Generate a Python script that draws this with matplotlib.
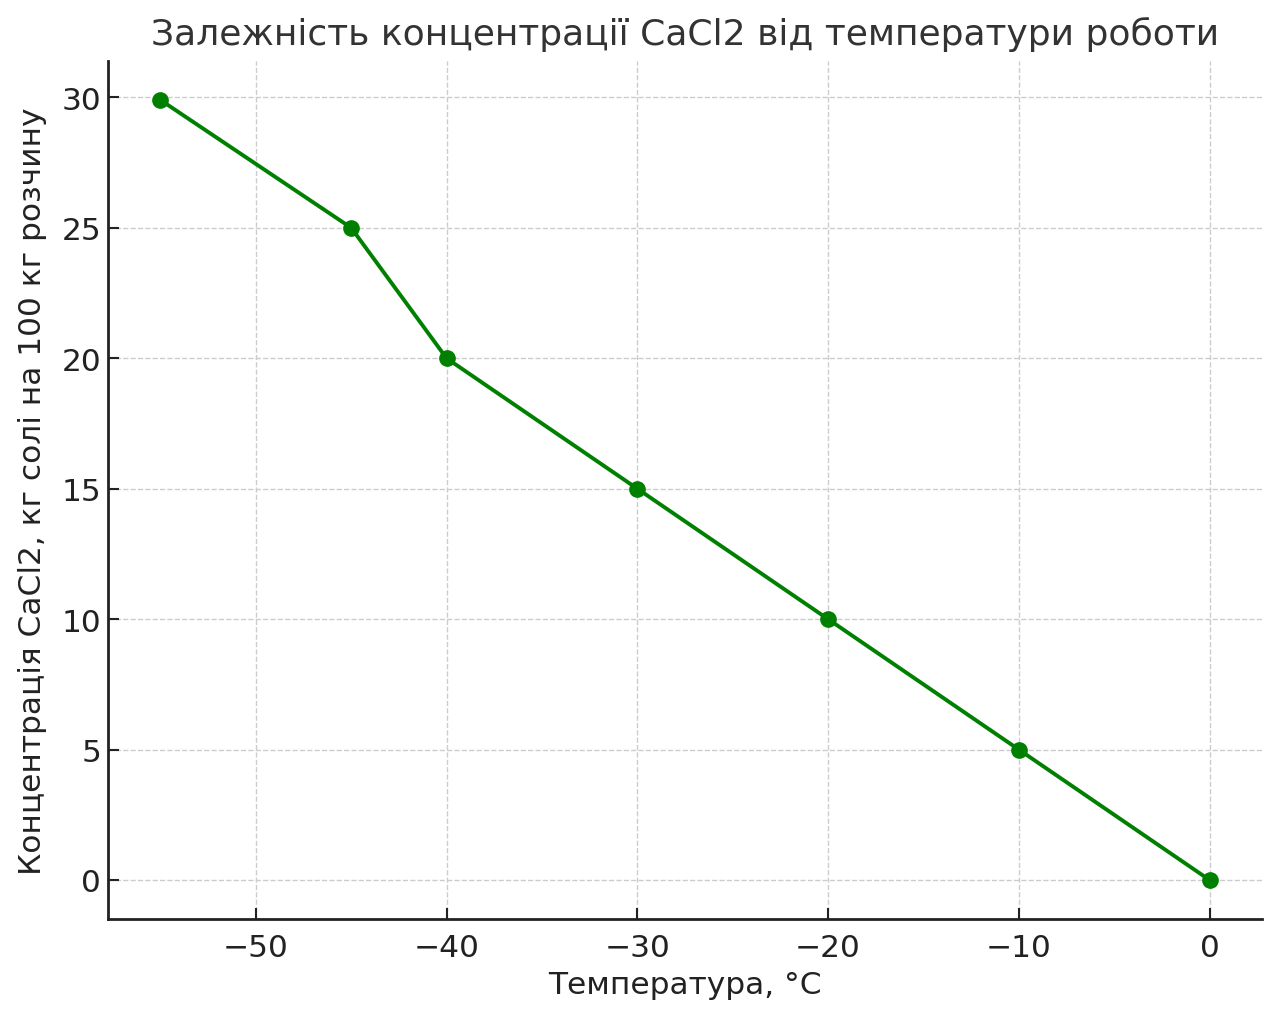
import numpy as np
import matplotlib
matplotlib.use('Agg')
import matplotlib.pyplot as plt

# temperature of operation vs CaCl2 concentration
temperature = [-55, -45, -40, -30, -20, -10, 0]
concentration = [29.9, 25, 20, 15, 10, 5, 0]

title = 'Залежність концентрації CaCl2 від температури роботи'
x_label = 'Температура, °C'
y_label = 'Концентрація CaCl2, кг солі на 100 кг розчину'

plt.rcParams['font.family'] = ['DejaVu Sans']
text_col = '#333333'

fig = plt.figure(figsize=(12.8, 10.2), dpi=100)
ax = fig.add_axes([108/1280, 1-920/1020, (1262-108)/1280, (920-62)/1020])

ax.plot(temperature, concentration, color='green', marker='o', markersize=11, linewidth=2.8)

ax.grid(True, linestyle='--', color='#cccccc', linewidth=1)
ax.set_axisbelow(True)
for side in ['top', 'right']:
  ax.spines[side].set_visible(False)
for side in ['left', 'bottom']:
  ax.spines[side].set_color('#222222')
  ax.spines[side].set_linewidth(2)
ax.tick_params(direction='in', length=8, width=1.5, colors='#222222', labelsize=22.5)
ax.tick_params(axis='x', pad=10)
ax.tick_params(axis='y', pad=5)
for lab in ax.get_xticklabels() + ax.get_yticklabels():
  lab.set_color('#222222')

ax.set_title(title, fontsize=26, color=text_col, pad=12)
ax.set_xlabel(x_label, fontsize=22.5, color='#222222', labelpad=6)
ax.set_ylabel(y_label, fontsize=22.5, color='#222222', labelpad=10)

fig.savefig('out.png', dpi=100)
